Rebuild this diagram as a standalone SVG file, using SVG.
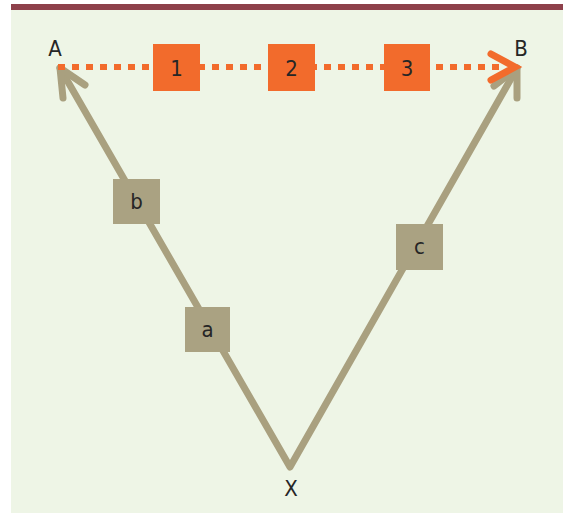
<svg xmlns="http://www.w3.org/2000/svg" width="563" height="513" viewBox="0 0 563 513">
  <defs>
    <style>
      .lbl { font-family: "DejaVu Sans Condensed", "DejaVu Sans", "Liberation Sans", sans-serif; font-size: 22px; fill: #262626; text-anchor: middle; }
      .tan { fill: #aaa282; }
      .org { fill: #f26b2c; }
      .tanline { fill: none; stroke: #a9a07f; stroke-width: 7; stroke-linecap: round; stroke-linejoin: round; }
      .dots { fill: none; stroke: #f26b2c; stroke-width: 6; stroke-dasharray: 7 7; }
      .head { fill: none; stroke: #f26b2c; stroke-width: 7; stroke-linecap: round; stroke-linejoin: miter; }
    </style>
  </defs>

  <!-- page background and header rule -->
  <rect x="0" y="0" width="563" height="513" fill="#ffffff"/>
  <rect x="11" y="10" width="552" height="503" fill="#eef5e6"/>
  <rect x="11" y="4" width="552" height="6" fill="#8e414b"/>

  <!-- connectors -->
  <g id="connectors">
    <!-- X to A and X to B -->
    <polyline class="tanline" points="60,68 290,467 517,68"/>
    <!-- arrowhead at A -->
    <polyline class="tanline" points="63,98 60,68 85,85"/>
    <!-- arrowhead at B -->
    <polyline class="tanline" points="494,86 517,68 517,98"/>
    <!-- A to B dotted -->
    <line class="dots" x1="58" y1="67" x2="500" y2="67"/>
    <polyline class="head" points="491,54 515,67 491,80"/>
  </g>

  <!-- end points -->
  <g id="node-A"><text class="lbl" x="55" y="56">A</text></g>
  <g id="node-B"><text class="lbl" x="521" y="56">B</text></g>
  <g id="node-X"><text class="lbl" x="291" y="496">X</text></g>

  <!-- steps on A to B -->
  <g id="node-1"><rect class="org" x="153" y="44" width="47" height="47"/><text class="lbl" x="176.5" y="76">1</text></g>
  <g id="node-2"><rect class="org" x="268" y="44" width="47" height="47"/><text class="lbl" x="291.5" y="76">2</text></g>
  <g id="node-3"><rect class="org" x="384" y="44" width="46" height="47"/><text class="lbl" x="407" y="76">3</text></g>

  <!-- steps on X to A and X to B -->
  <g id="node-b"><rect class="tan" x="113" y="179" width="47" height="45"/><text class="lbl" x="136.5" y="209">b</text></g>
  <g id="node-a"><rect class="tan" x="185" y="307" width="45" height="45"/><text class="lbl" x="207.5" y="337">a</text></g>
  <g id="node-c"><rect class="tan" x="396" y="224" width="47" height="46"/><text class="lbl" x="419.5" y="254">c</text></g>
</svg>
